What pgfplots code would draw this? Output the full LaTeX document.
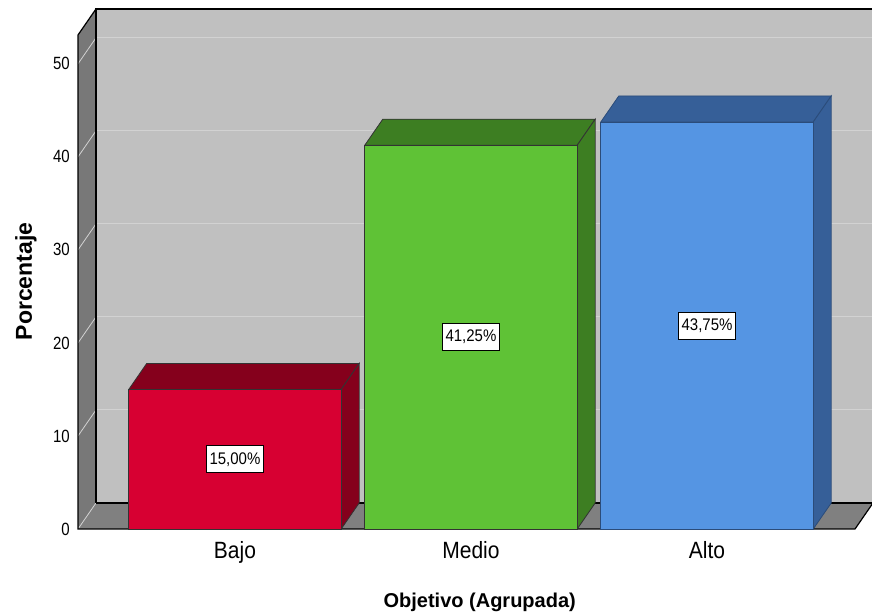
\documentclass[border=0pt]{standalone}
\usepackage{pgfplots}
\pgfplotsset{compat=1.18}
\usepackage{fontspec}
\setmainfont{Liberation Sans}
\definecolor{backwall}{HTML}{C0C0C0}
\definecolor{leftwall}{HTML}{787878}
\definecolor{floorc}{HTML}{808080}
\definecolor{gridc}{HTML}{D2D2D2}
\definecolor{redf}{HTML}{D70032}
\definecolor{redd}{HTML}{85001C}
\definecolor{greenf}{HTML}{5FC236}
\definecolor{greend}{HTML}{3D7E22}
\definecolor{bluef}{HTML}{5595E3}
\definecolor{blued}{HTML}{365F98}
\begin{document}
\begin{tikzpicture}
\path[use as bounding box] (0,0) rectangle (872pt,615pt);
\begin{axis}[
  at={(78pt,86pt)}, anchor=south west,
  scale only axis, width=777pt, height=494pt,
  xmin=-0.665, xmax=2.627, ymin=0, ymax=53.1,
  clip=false,
  axis line style={draw=none},
  major tick length=0pt,
  xtick={0,1,2}, xticklabels={\scalebox{1}[1.12]{Bajo},\scalebox{1}[1.12]{Medio},\scalebox{1}[1.12]{Alto}},
  ytick={0,10,20,30,40,50},
  yticklabel={\scalebox{1}[1.18]{\pgfmathprintnumber{\tick}}},
  /pgf/number format/assume math mode=true,
  xticklabel style={font=\fontsize{21}{24}\selectfont, anchor=base, inner sep=0pt, yshift=-30pt},
  yticklabel style={font=\fontsize{15}{17}\selectfont, anchor=east, inner sep=0pt, xshift=-8pt},
  xlabel={Objetivo (Agrupada)},
  xlabel style={font=\bfseries\fontsize{20}{23}\selectfont, at={(axis description cs:0.517,0)}, anchor=base, inner sep=0pt, yshift=-78pt},
  ylabel={Porcentaje},
  ylabel style={font=\bfseries\fontsize{23}{26}\selectfont, at={(axis description cs:0,0.501)}, anchor=base, inner sep=0pt, yshift=46pt},
]
% back wall
\addplot[fill=backwall, draw=none] coordinates {(-0.5887,2.8) (2.7033,2.8) (2.7033,55.9) (-0.5887,55.9) (-0.5887,2.8)};
% left wall
\addplot[fill=leftwall, draw=none] coordinates {(-0.665,0) (-0.5887,2.8) (-0.5887,55.9) (-0.665,53.1) (-0.665,0)};
% floor
\addplot[fill=floorc, draw=none] coordinates {(-0.665,0) (2.627,0) (2.7033,2.8) (-0.5887,2.8) (-0.665,0)};
% grid lines on back wall
\addplot[gridc, line width=1pt] coordinates {(-0.5887,12.8) (2.7033,12.8)};
\addplot[gridc, line width=1pt] coordinates {(-0.5887,22.8) (2.7033,22.8)};
\addplot[gridc, line width=1pt] coordinates {(-0.5887,32.8) (2.7033,32.8)};
\addplot[gridc, line width=1pt] coordinates {(-0.5887,42.8) (2.7033,42.8)};
\addplot[gridc, line width=1pt] coordinates {(-0.5887,52.8) (2.7033,52.8)};
% grid lines on left wall and floor
\addplot[gridc, line width=0.8pt] coordinates {(-0.665,0) (-0.5887,2.8)};
\addplot[gridc, line width=0.8pt] coordinates {(-0.665,10) (-0.5887,12.8)};
\addplot[gridc, line width=0.8pt] coordinates {(-0.665,20) (-0.5887,22.8)};
\addplot[gridc, line width=0.8pt] coordinates {(-0.665,30) (-0.5887,32.8)};
\addplot[gridc, line width=0.8pt] coordinates {(-0.665,40) (-0.5887,42.8)};
\addplot[gridc, line width=0.8pt] coordinates {(-0.665,50) (-0.5887,52.8)};
% outlines
\addplot[black, line width=1.2pt] coordinates {(-0.5887,2.8) (-0.5887,55.9) (2.7033,55.9)};
\addplot[black, line width=1.2pt] coordinates {(-0.5887,2.8) (2.7033,2.8)};
\addplot[black, line width=1.2pt] coordinates {(-0.5887,55.9) (-0.665,53.1) (-0.665,0) (2.627,0) (2.7033,2.8)};
% Bajo 15
\addplot[fill=redd, draw=black!80, line width=0.8pt] coordinates {(-0.45,15) (0.45,15) (0.5263,17.8) (-0.3737,17.8) (-0.45,15)};
\addplot[fill=redd, draw=black!80, line width=0.8pt] coordinates {(0.45,0) (0.5263,2.8) (0.5263,17.8) (0.45,15) (0.45,0)};
\addplot[ybar, bar width=0.9, bar shift=0pt, fill=redf, draw=black!80, line width=0.8pt] coordinates {(0,15)};
% Medio 41.25
\addplot[fill=greend, draw=black!80, line width=0.8pt] coordinates {(0.55,41.25) (1.45,41.25) (1.5263,44.05) (0.6263,44.05) (0.55,41.25)};
\addplot[fill=greend, draw=black!80, line width=0.8pt] coordinates {(1.45,0) (1.5263,2.8) (1.5263,44.05) (1.45,41.25) (1.45,0)};
\addplot[ybar, bar width=0.9, bar shift=0pt, fill=greenf, draw=black!80, line width=0.8pt] coordinates {(1,41.25)};
% Alto 43.75
\addplot[fill=blued, draw=blued!80!black, line width=0.8pt] coordinates {(1.55,43.75) (2.45,43.75) (2.5263,46.55) (1.6263,46.55) (1.55,43.75)};
\addplot[fill=blued, draw=blued!80!black, line width=0.8pt] coordinates {(2.45,0) (2.5263,2.8) (2.5263,46.55) (2.45,43.75) (2.45,0)};
\addplot[ybar, bar width=0.9, bar shift=0pt, fill=bluef, draw=blued!80!black, line width=0.8pt] coordinates {(2,43.75)};
% value labels
\node[fill=white, draw=black, line width=0.7pt, inner xsep=3pt, minimum height=27pt, font=\fontsize{15}{17}\selectfont] at (axis cs:0,7.5) {\scalebox{1}[1.12]{15,00\%}};
\node[fill=white, draw=black, line width=0.7pt, inner xsep=3pt, minimum height=27pt, font=\fontsize{15}{17}\selectfont] at (axis cs:1,20.625) {\scalebox{1}[1.12]{41,25\%}};
\node[fill=white, draw=black, line width=0.7pt, inner xsep=3pt, minimum height=27pt, font=\fontsize{15}{17}\selectfont] at (axis cs:2,21.875) {\scalebox{1}[1.12]{43,75\%}};
\end{axis}
\end{tikzpicture}
\end{document}
